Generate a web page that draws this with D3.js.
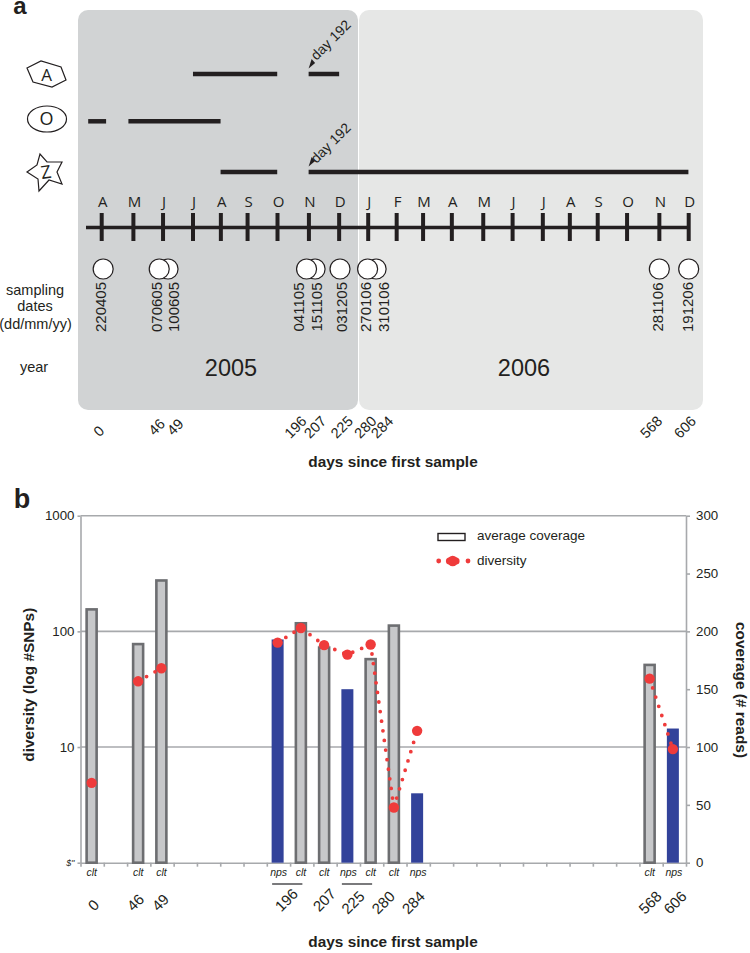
<!DOCTYPE html>
<html><head><meta charset="utf-8">
<script src="https://cdn.jsdelivr.net/npm/d3@7"></script>
<style>html,body{margin:0;padding:0;background:#fff}svg{display:block}text{font-family:"Liberation Sans",Arial,sans-serif;fill:#231f20}</style>
</head><body><svg id="c" width="750" height="953"></svg>
<script>
// ---------- panel a data (positions along the timeline in months since April 2005)
const monthLabels = ["A","M","J","J","A","S","O","N","D","J","F","M","A","M","J","J","A","S","O","N","D"];
const monthTicks = [0,1.08,2.09,3.11,4.06,4.97,5.99,7.06,8.09,9.08,10.05,10.95,11.93,13.0,14.0,15.03,15.95,16.9,17.9,19.0,20];
const speciesNames = ["A","O","Z"];
const presenceSpecies = ["A","A","O","O","Z","Z"];
const presenceStart = [3.11,7.05,-0.46,0.91,4.05,7.05];
const presenceEnd = [5.98,8.09,0.15,4.05,5.98,19.99];
const samplingDates = ["220405","070605","100605","041105","151105","031205","270106","310106","281106","191206"];
const samplingMonth = [0.05,1.96,2.26,6.98,7.27,8.12,9.06,9.35,19.0,20];
const dateLabelMonth = [-0.02,1.87,2.46,6.72,7.33,8.18,9.0,9.62,18.95,19.97];
const sampleDays = ["0","46","49","196","207","225","280","284","568","606"];
const dayLabelMonth = [-0.1,1.87,2.5,6.6,7.27,8.18,8.98,9.55,18.72,19.87];
const years = ["2005","2006"];
// ---------- panel b data
const slots = d3.range(26);
const sampleSlot = [0,2,3,8,9,10,11,12,13,14,24,25];
const sampleType = ["clt","clt","clt","nps","clt","clt","nps","clt","clt","nps","clt","nps"];
const coverage = [219,189,244,193,207,186,150,176,205,60,171,116];
const diversity = [4.9,37,48,80,107,76,63,77,3,13.8,39,9.6];
const diversityRun = [0,1,1,2,2,2,2,2,2,2,3,3];
const axisDayLabels = ["0","46","49","196","207","225","280","284","568","606"];
const axisDaySlot = [0.56,2.36,3.43,8.84,10.47,11.7,13,14.29,24.46,25.53];
const logTicks = [1,10,100,1000];
const coverageTicks = [0,50,100,150,200,250,300];

const ink="#231f20", svg=d3.select("#c");
const txt=(g,s,x,y,size,o={})=>g.append("text").text(s)
  .attr("transform",`translate(${x},${y}) rotate(${o.rot||0})`)
  .attr("dy",".35em").attr("text-anchor",o.anchor||"middle")
  .attr("font-size",size).attr("font-weight",o.bold?"bold":null).attr("font-style",o.italic?"italic":null)
  .style("font-family",o.family||null);

// ================= PANEL A =================
const a=svg.append("g");
const mx=d3.scaleLinear().domain([0,20]).range([101.7,688.7]);
const sy=d3.scaleOrdinal().domain(speciesNames).range([74,121.3,172]);
const yearX=d3.scaleOrdinal().domain(years).range([78,359]);
const yearW=d3.scaleOrdinal().domain(years).range([280,344]);
const yearC=d3.scaleOrdinal().domain(years).range(["#d1d3d4","#e6e7e6"]);
const yearTx=d3.scaleOrdinal().domain(years).range([231,524]);
a.selectAll("rect.y").data(years).join("rect").attr("class","y")
  .attr("x",d=>yearX(d)).attr("y",10).attr("width",d=>yearW(d)).attr("height",400).attr("rx",10)
  .attr("fill",d=>yearC(d));
years.forEach(d=>txt(a,d,yearTx(d),368,23.5));
txt(a,"a",20,6,24,{bold:true});

// presence bars
a.selectAll("line.p").data(presenceStart).join("line").attr("class","p")
  .attr("x1",d=>mx(d)).attr("x2",(d,i)=>mx(presenceEnd[i]))
  .attr("y1",(d,i)=>sy(presenceSpecies[i])).attr("y2",(d,i)=>sy(presenceSpecies[i]))
  .attr("stroke",ink).attr("stroke-width",4.5);

// species glyphs
const outline=d3.line();
const hexShape=[[27,68],[41,61],[61,67],[66,80],[52,87],[33,82]];
const starShape=[[27,172],[37,165],[40,154],[47,162],[62,162],[57,172],[62,184],[49,180],[39,191],[38,179]];
a.append("path").attr("d",outline(hexShape)+"Z").attr("fill","none").attr("stroke",ink).attr("stroke-width",1.2);
a.append("ellipse").attr("cx",47).attr("cy",119).attr("rx",19.5).attr("ry",13).attr("fill","none").attr("stroke",ink).attr("stroke-width",1.2);
a.append("path").attr("d",outline(starShape)+"Z").attr("fill","none").attr("stroke",ink).attr("stroke-width",1.2);
txt(a,"A",46.5,75,17,{family:"Open Sans"});
txt(a,"O",46.5,119,18,{family:"Open Sans"});
txt(a,"Z",46,172,18,{family:"Open Sans",rot:-8});

// day 192 arrows
[[sy("A")],[sy("Z")]].forEach(([y])=>{
  const x=mx(7.05);
  a.append("path").attr("d",outline([[x,y-5.5],[x+6.5,y-11],[x+3,y-15]])+"Z").attr("fill",ink);
  txt(a,"day 192",x+22,y-(y<100?34:29),14,{rot:-45});
});

// timeline
a.append("line").attr("x1",86).attr("x2",mx(20)+1).attr("y1",227.5).attr("y2",227.5).attr("stroke",ink).attr("stroke-width",3.5);
a.selectAll("line.m").data(monthTicks).join("line").attr("class","m")
  .attr("x1",d=>mx(d)).attr("x2",d=>mx(d)).attr("y1",213).attr("y2",241)
  .attr("stroke",ink).attr("stroke-width",4);
a.selectAll("text.ml").data(monthLabels).join("text").attr("class","ml").text(d=>d)
  .attr("x",(d,i)=>mx(monthTicks[i])+1).attr("y",202).attr("dy",".35em").attr("text-anchor","middle")
  .attr("font-size",15).style("font-family","Open Sans");

// sampling circles: later dates sit under earlier ones
const order=d3.range(samplingDates.length).reverse();
a.selectAll("circle.s").data(order).join("circle").attr("class","s")
  .attr("cx",i=>mx(samplingMonth[i])).attr("cy",269).attr("r",10)
  .attr("fill","#fff").attr("stroke",ink).attr("stroke-width",1.2);
samplingDates.forEach((d,i)=>txt(a,d,mx(dateLabelMonth[i]),307,15,{rot:-90}));
sampleDays.forEach((d,i)=>txt(a,d,mx(dayLabelMonth[i]),d==="0"?431:427,14.5,{rot:-45}));
txt(a,"sampling",35,290,14.5);
txt(a,"dates",35,306,14.5);
txt(a,"(dd/mm/yy)",35.5,324,14.5);
txt(a,"year",34,367,14.5);
txt(a,"days since first sample",393,461.5,15.4,{bold:true});

// ================= PANEL B =================
const b=svg.append("g");
const L=80.5,R=686,T=515.7,B=862.7;
const x=d3.scaleBand().domain(slots).range([80,684.5]);
const xEdge=d3.scaleLinear().domain([0,26]).range([L,R]);
const yLog=d3.scaleLog().domain([1,1000]).range([B,T]);
const yCov=d3.scaleLinear().domain([0,300]).range([B,T]);
const cx=s=>x(s)+x.bandwidth()/2;
const gridC="#a7a9ac";
txt(b,"b",22,499,27,{bold:true});

b.selectAll("line.g").data(logTicks.slice(1)).join("line").attr("class","g")
  .attr("x1",L).attr("x2",R).attr("y1",d=>yLog(d)).attr("y2",d=>yLog(d))
  .attr("stroke",gridC).attr("stroke-width",1.6);

const styleAxis=g=>{g.selectAll("path,line").attr("stroke",gridC).attr("stroke-width",1.6);
  g.selectAll("text").attr("font-size",13.3).attr("fill",ink).style("font-family","Liberation Sans");};
b.append("g").attr("transform",`translate(${L},0)`)
  .call(d3.axisLeft(yLog).tickValues(logTicks).tickSize(3).tickSizeOuter(0).tickPadding(3)
    .tickFormat(d=>d===1?'$"':d)).call(styleAxis)
  .call(g=>g.selectAll(".tick").filter(d=>d===1).select("text").attr("font-size",9).attr("font-style","italic"));
b.append("g").attr("transform",`translate(${R},0)`)
  .call(d3.axisRight(yCov).tickValues(coverageTicks).tickSize(4).tickSizeOuter(0).tickPadding(6)).call(styleAxis);
b.append("g").attr("transform",`translate(0,${B})`)
  .call(d3.axisBottom(xEdge).tickValues(d3.range(27)).tickSize(4).tickSizeOuter(0).tickFormat("")).call(styleAxis);

// coverage bars
const bars=sampleSlot.map((s,i)=>({s,t:sampleType[i],c:coverage[i],d:diversity[i],run:diversityRun[i]}));
b.selectAll("rect.clt").data(bars.filter(d=>d.t==="clt")).join("rect").attr("class","clt")
  .attr("x",d=>cx(d.s)-5).attr("width",10).attr("y",d=>yCov(d.c)).attr("height",d=>B-yCov(d.c))
  .attr("fill","#c7c8ca").attr("stroke","#6d6e71").attr("stroke-width",2.6);
b.selectAll("rect.nps").data(bars.filter(d=>d.t==="nps")).join("rect").attr("class","nps")
  .attr("x",d=>cx(d.s)-6).attr("width",12).attr("y",d=>yCov(d.c)).attr("height",d=>B-yCov(d.c))
  .attr("fill","#32429a");

// diversity
const red="#ef3b3b";
const line=d3.line().x(d=>cx(d.s)).y(d=>yLog(d.d));
d3.groups(bars,d=>d.run).filter(([k])=>k>0).forEach(([k,v])=>{
  b.append("path").attr("d",line(v)).attr("fill","none").attr("stroke",red)
    .attr("stroke-width",3.8).attr("stroke-linecap","round").attr("stroke-dasharray","0 9.7");
});
b.selectAll("circle.d").data(bars).join("circle").attr("class","d")
  .attr("cx",d=>cx(d.s)).attr("cy",d=>yLog(d.d)).attr("r",5.2).attr("fill",red);

// sample type labels
bars.forEach(d=>txt(b,d.t,cx(d.s)-(d.t==="clt"?0:-1),872.7,10.5,{italic:true}));
[[8,9],[11,12]].forEach(([p,q])=>b.append("line")
  .attr("x1",cx(p)-5.5).attr("x2",cx(q)+1.5).attr("y1",884).attr("y2",884).attr("stroke","#58595b").attr("stroke-width",1.6));
axisDayLabels.forEach((d,i)=>txt(b,d,xEdge(axisDaySlot[i]),d==="0"?905:(d==="196"||d==="207"?900:902.5),15,{rot:-45}));

// axis titles
txt(b,"diversity (log #SNPs)",29,684.7,15.4,{bold:true,rot:-90});
txt(b,"coverage (# reads)",741.5,690,15.4,{bold:true,rot:90});
txt(b,"days since first sample",393,942,15.4,{bold:true});

// legend
b.append("rect").attr("x",438).attr("y",533.5).attr("width",27).attr("height",7).attr("fill","#fff").attr("stroke",ink).attr("stroke-width",1.4);
txt(b,"average coverage",477,535,13.5,{anchor:"start"});
txt(b,"diversity",477,560.5,13.5,{anchor:"start"});
[[438.7,2.4],[468,2.4],[449.5,3.6],[456,3.6],[452.7,5.3]].forEach(([px,r])=>
  b.append("circle").attr("cx",px).attr("cy",561).attr("r",r).attr("fill",red));
</script></body></html>
